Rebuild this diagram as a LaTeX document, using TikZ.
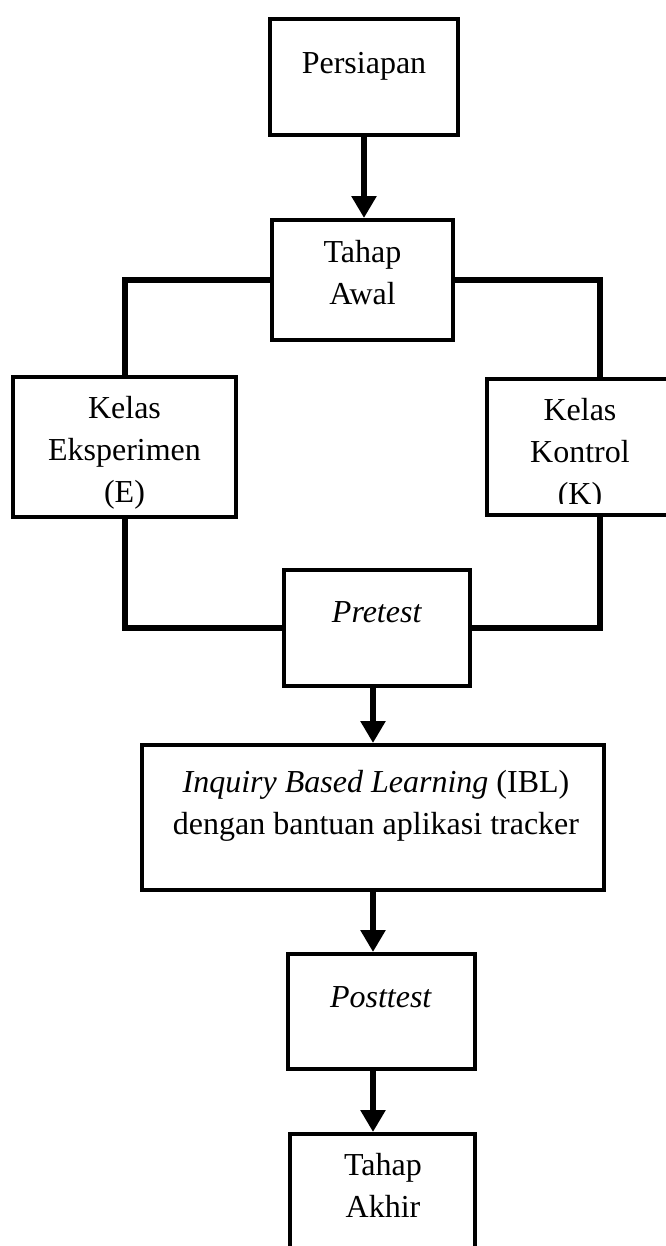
\documentclass[tikz,border=0pt]{standalone}
\usepackage{fontspec}
\setmainfont{Liberation Serif}
\usetikzlibrary{arrows.meta,positioning}

\tikzset{
  box/.style={draw,line width=3pt,inner sep=0pt,anchor=north west},
  txt/.style={font=\fontsize{24}{31.5}\selectfont,align=center,anchor=north,inner sep=0pt},
  link/.style={line width=4.5pt},
  flow/.style={line width=5pt,-{Triangle[length=16.5pt,width=18pt]}}
}

\begin{document}
\begin{tikzpicture}[x=0.75pt,y=-0.75pt]
\useasboundingbox (0,0) rectangle (666,1246);
% boxes
\node[box,minimum width=141pt,minimum height=87pt] (persiapan) at (268,17) {};
\node[box,minimum width=135.75pt,minimum height=90pt] (tahapawal) at (270,218) {};
\node[box,minimum width=167.25pt,minimum height=105pt] (kelasE) at (11,375) {};
\node[box,minimum width=139.5pt,minimum height=102pt] (kelasK) at (485,377) {};
\node[box,minimum width=139.5pt,minimum height=87pt] (pretest) at (282,568) {};
\node[box,minimum width=346.5pt,minimum height=108.75pt] (ibl) at (140,743) {};
\node[box,minimum width=140.25pt,minimum height=86.25pt] (posttest) at (286,952) {};
\node[box,minimum width=138.75pt,minimum height=94.5pt] (akhir) at (288,1132) {};
% texts
\node[txt] (persiapan-t) at (364,52) {Persiapan};
\node[txt] (tahapawal-t) at (362.5,240) {Tahap\\Awal};
\node[txt] (kelasE-t) at (124.5,396) {Kelas\\Eksperimen\\(E)};
\begin{scope}
\clip (487,379) rectangle (673,503);
\node[txt] (kelasK-t) at (580,398) {Kelas\\Kontrol\\(K)};
\end{scope}
\node[txt] (pretest-t) at (377,601) {\textit{Pretest}};
\node[txt] (ibl-t) at (376,770) {\textit{Inquiry Based Learning} (IBL)\\dengan bantuan aplikasi tracker};
\node[txt] (posttest-t) at (381,986) {\textit{Posttest}};
\node[txt] (akhir-t) at (383,1153) {Tahap\\Akhir};
% connectors
\draw[flow] (persiapan.south) -- (persiapan.south |- tahapawal.north);
\draw[link] (tahapawal.west) -| (kelasE.north);
\draw[link] (tahapawal.east) -| ([xshift=15pt]kelasK.north);
\draw[link] (kelasE.south) |- (pretest.west);
\draw[link] ([xshift=15pt]kelasK.south) |- (pretest.east);
\draw[flow] (ibl.north |- pretest.south) -- (ibl.north);
\draw[flow] (ibl.south) -- (ibl.south |- posttest.north);
\draw[flow] (ibl.south |- posttest.south) -- (ibl.south |- akhir.north);
\end{tikzpicture}
\end{document}
